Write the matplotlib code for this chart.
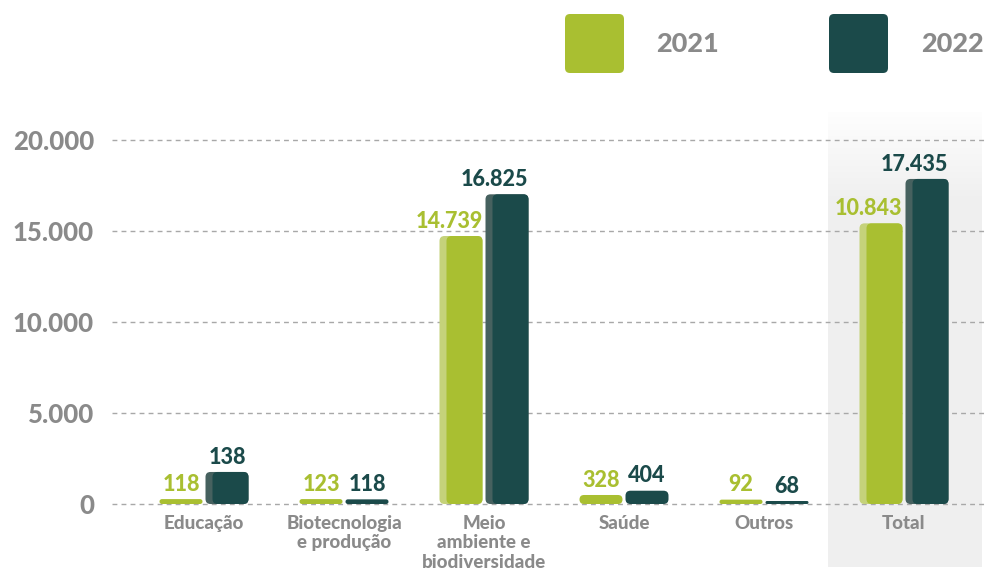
import numpy as np
import matplotlib
matplotlib.use("Agg")
import matplotlib.pyplot as plt
from matplotlib.patches import FancyBboxPatch
from matplotlib.patches import BoxStyle
import matplotlib.transforms as mtransforms
from matplotlib.ticker import FuncFormatter

# ---------------- data ----------------
categories = ["Educação", "Biotecnologia\ne produção", "Meio\nambiente e\nbiodiversidade",
              "Saúde", "Outros", "Total"]
series_names = ["2021", "2022"]
# bar heights as drawn in the picture
heights_2021 = [270, 270, 14725, 495, 240, 15420]
heights_2022 = [1760, 255, 17016, 730, 165, 17860]
# value labels as printed
labels_2021 = ["118", "123", "14.739", "328", "92", "10.843"]
labels_2022 = ["138", "118", "16.825", "404", "68", "17.435"]
yticks = [0, 5000, 10000, 15000, 20000]

# ---------------- style ----------------
W, H = 986, 577
DPI = 100
GREEN, GREEN_L = "#a9bf31", "#c5d27a"
TEAL, TEAL_L = "#1b4a4a", "#46615f"
GRAY_TXT = "#8a8a8a"
FONT = ["Lato", "DejaVu Sans"]
WEIGHT = "black"
plt.rcParams["font.family"] = FONT

fig = plt.figure(figsize=(W / DPI, H / DPI), dpi=DPI)
fig.patch.set_facecolor("white")

# axes placement (pixels)
ax_left_px, ax_right_px = 112, 986
y0_px, y20k_px = 504, 140
ymin, ymax = -200, 20400
ppu = (y0_px - y20k_px) / 20000.0
ax_bot_px = y0_px - ymin * ppu
ax_top_px = y20k_px - (ymax - 20000) * ppu
ax = fig.add_axes([ax_left_px / W, 1 - ax_bot_px / H,
                   (ax_right_px - ax_left_px) / W, (ax_bot_px - ax_top_px) / H])
ax.patch.set_alpha(0)

x = np.arange(len(categories))
xunit_px = 140.0
xmin = -(204 - ax_left_px) / xunit_px
xmax = (len(categories) - 1) + (ax_right_px - (204 + 140 * (len(categories) - 1))) / xunit_px

bar_w = 43 / xunit_px
off = 23 / xunit_px

# Total highlight column (gradient background)
grad_n = 200
top_f, bot_f = 1 - 112 / H, 1 - 567 / H
ys = np.linspace(0, 1, grad_n)  # 0 = top
span_px = 567 - 112
fade = np.clip(ys * span_px / 85.0, 0, 1)
g = 0.995 - (0.995 - 0.94) * fade
col2 = np.repeat(g[:, None], 2, axis=1)
img = np.stack([col2, col2, col2], axis=-1)
trans = mtransforms.blended_transform_factory(ax.transData, fig.transFigure)
cx = x[-1]
im = ax.imshow(img, extent=[cx - 0.545, cx + 0.55, bot_f, top_f], origin="upper",
               aspect="auto", zorder=0, clip_on=False, interpolation="bilinear")
im.set_transform(trans)

ax.set_xlim(xmin, xmax)
ax.set_ylim(ymin, ymax)

# grid
ax.set_axisbelow(True)
ax.set_yticks(yticks)
ax.yaxis.grid(True, color="#a8a8a8", linewidth=1.0, linestyle=(0, (3.5, 3)))
ax.xaxis.grid(False)
for s in ax.spines.values():
    s.set_visible(False)
ax.tick_params(axis="both", length=0)
ax.tick_params(axis="y", pad=13, labelsize=18.5, labelcolor=GRAY_TXT)
ax.yaxis.set_major_formatter(FuncFormatter(lambda v, p: f"{int(v):,}".replace(",", ".")))
for t in ax.get_yticklabels():
    t.set_fontweight(WEIGHT)
ax.set_xticks(x)
ax.set_xticklabels(categories, fontsize=13.5, fontweight=WEIGHT, color=GRAY_TXT,
                   linespacing=1.2)
ax.tick_params(axis="x", pad=5)

# rounded bars
aspect = (1 / ppu) / (1 / xunit_px)   # y-units per px / x-units per px
r_x = 5 / xunit_px
stripe = 7 / xunit_px


def rounded(x0, y0, w, h, color, z):
    r = min(r_x, w / 2, (h / aspect) / 2)
    p = FancyBboxPatch((x0, y0), w, h, boxstyle=BoxStyle.Round(pad=0, rounding_size=r),
                       mutation_aspect=aspect, facecolor=color, edgecolor="none", zorder=z)
    ax.add_patch(p)


def draw_series(heights, labels, shift, col, col_l):
    bars = ax.bar(x + shift, heights, width=bar_w, color=col)
    for b, lab in zip(bars, labels):
        bx, by, bw, bh = b.get_x(), b.get_y(), b.get_width(), b.get_height()
        b.set_visible(False)
        if bh * ppu > 20:
            rounded(bx, by, bw, bh, col_l, 2)
            rounded(bx + stripe, by, bw - stripe, bh, col, 3)
        else:
            rounded(bx, by, bw, bh, col, 3)
        if len(lab) > 3:
            tx, ha = bx + bw, "right"
        else:
            tx, ha = bx + bw / 2, "center"
        ax.annotate(lab, (tx, bh), xytext=(0, 6), textcoords="offset points",
                    ha=ha, va="baseline", fontsize=15.5, fontweight=WEIGHT,
                    color=col, zorder=4)


draw_series(heights_2021, labels_2021, -off, GREEN, GREEN_L)
draw_series(heights_2022, labels_2022, off, TEAL, TEAL_L)

# legend (figure pixel overlay)
lax = fig.add_axes([0, 0, 1, 1], zorder=5)
lax.set_xlim(0, W)
lax.set_ylim(H, 0)
lax.axis("off")
lax.patch.set_alpha(0)
for name, col, sx, tx in [(series_names[0], GREEN, 565, 656),
                          (series_names[1], TEAL, 829, 921)]:
    lax.add_patch(FancyBboxPatch((sx, 14), 59, 59,
                                 boxstyle=BoxStyle.Round(pad=0, rounding_size=5),
                                 facecolor=col, edgecolor="none"))
    lax.text(tx, 44, name, ha="left", va="center", fontsize=19.5, fontweight=WEIGHT,
             color=GRAY_TXT)

fig.savefig("out.png", dpi=DPI, facecolor="white")
